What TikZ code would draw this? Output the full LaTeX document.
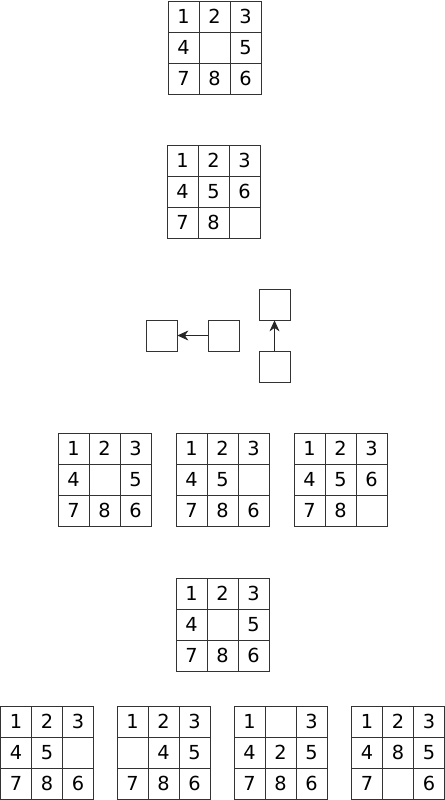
\documentclass[tikz,border=0pt]{standalone}
\usepackage{fontspec}
\setmainfont{DejaVu Sans}
\usetikzlibrary{arrows.meta}
\tikzset{
  tile/.style={draw=black!80, line width=0.45pt, minimum size=0.62cm, inner sep=0pt,
    font=\fontsize{11}{13}\selectfont},
  slot/.style={draw=black!80, line width=0.45pt, minimum size=0.62cm, inner sep=0pt},
  move/.style={-{Stealth[length=2.2mm,width=2mm,inset=0.7mm]}, line width=0.45pt, black!85},
}
% 3x3 board: name, left, top (pixels), nine entries
\newcommand\puzzle[4]{%
  \foreach \v [count=\i from 0] in {#4} {
    \pgfmathtruncatemacro\col{mod(\i,3)}
    \pgfmathtruncatemacro\row{\i/3}
    \node[tile] (#1-\i) at ({#2+15.5+31*\col},{#3+15.5+31*\row}) {\v};
  }}
\begin{document}
\begin{tikzpicture}[x=0.02cm,y=-0.02cm]
  \useasboundingbox (0,0) rectangle (445,800);
  % start and goal
  \puzzle{start}{168}{1}{1,2,3,4,{},5,7,8,6}
  \puzzle{goal}{167}{145}{1,2,3,4,5,6,7,8,{}}
  % moves of the blank
  \node[slot] (left) at (161.5,335.5) {};
  \node[slot] (right) at (223.5,335.5) {};
  \draw[move] (right) -- (left);
  \node[slot] (up) at (274.5,304.5) {};
  \node[slot] (down) at (274.5,366.5) {};
  \draw[move] (down) -- (up);
  % a path
  \puzzle{pa}{58}{433}{1,2,3,4,{},5,7,8,6}
  \puzzle{pb}{176}{433}{1,2,3,4,5,{},7,8,6}
  \puzzle{pc}{294}{433}{1,2,3,4,5,6,7,8,{}}
  % successors
  \puzzle{root}{176}{578}{1,2,3,4,{},5,7,8,6}
  \puzzle{sa}{0.5}{706}{1,2,3,4,5,{},7,8,6}
  \puzzle{sb}{117}{706}{1,2,3,{},4,5,7,8,6}
  \puzzle{sc}{234}{706}{1,{},3,4,2,5,7,8,6}
  \puzzle{sd}{351.5}{706}{1,2,3,4,8,5,7,{},6}
\end{tikzpicture}
\end{document}
